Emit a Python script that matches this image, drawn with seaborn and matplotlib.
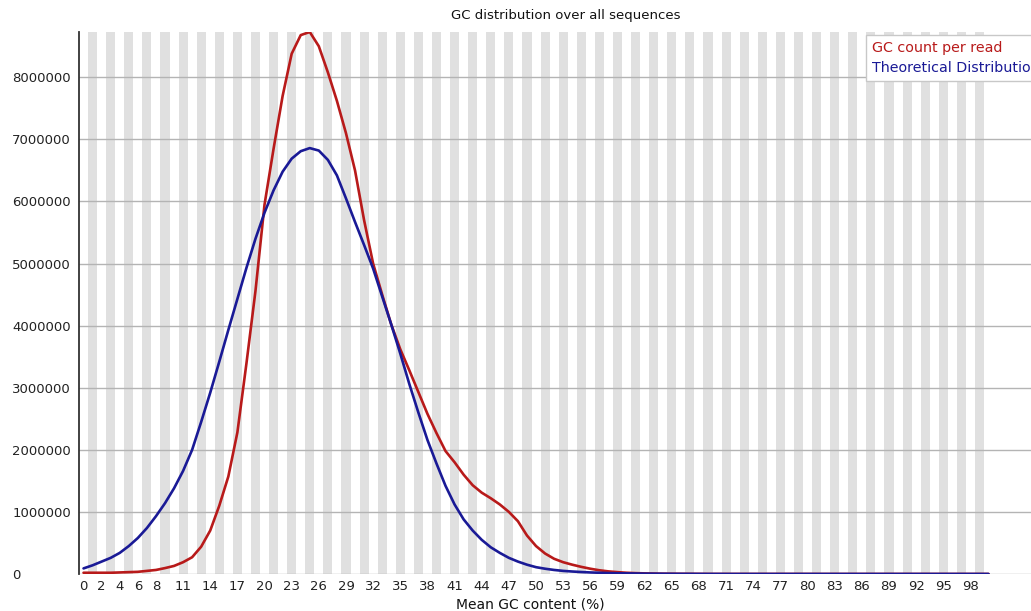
import numpy as np
import pandas as pd
import matplotlib
matplotlib.use("Agg")
import matplotlib.pyplot as plt
import seaborn as sns
from matplotlib.lines import Line2D

# Mean GC content of each read (%), one point per percent
gc_percent = list(range(101))

# Observed read counts per GC percent (millions)
gc_count_per_read = [
    0.02, 0.02, 0.02, 0.02, 0.025, 0.03, 0.035, 0.05, 0.065, 0.095,
    0.13, 0.19, 0.27, 0.44, 0.70, 1.10, 1.57, 2.28, 3.39, 4.56,
    5.95, 6.85, 7.70, 8.38, 8.68, 8.73, 8.50, 8.08, 7.62, 7.10,
    6.50, 5.70, 5.00, 4.50, 4.02, 3.62, 3.28, 2.93, 2.58, 2.27,
    1.98, 1.80, 1.60, 1.43, 1.31, 1.22, 1.12, 1.00, 0.85, 0.62,
    0.45, 0.33, 0.245, 0.19, 0.15, 0.115, 0.085, 0.06, 0.042, 0.03,
    0.02, 0.014, 0.01, 0.007, 0.005, 0.004, 0.003, 0.0025, 0.002, 0.001,
    0.001, 0.001, 0.001, 0.001, 0.001, 0.001, 0.001, 0.001, 0.001, 0.001,
    0.001, 0.0005, 0.0005, 0.0005, 0.0005, 0.0005, 0.0005, 0.0005, 0.0005, 0.0005,
    0.0005, 0.0005, 0.0005, 0.0005, 0.0005, 0.0005, 0.0005, 0.0005, 0.0005, 0.0005,
    0.0005,
]

# Theoretical (normal) distribution counts per GC percent (millions)
theoretical_distribution = [
    0.09, 0.14, 0.20, 0.26, 0.34, 0.45, 0.58, 0.74, 0.93, 1.14,
    1.38, 1.66, 2.00, 2.45, 2.92, 3.42, 3.93, 4.43, 4.93, 5.40,
    5.82, 6.18, 6.48, 6.69, 6.81, 6.86, 6.82, 6.67, 6.42, 6.05,
    5.67, 5.30, 4.92, 4.47, 4.02, 3.55, 3.06, 2.60, 2.16, 1.78,
    1.42, 1.12, 0.88, 0.70, 0.55, 0.43, 0.34, 0.26, 0.20, 0.15,
    0.11, 0.085, 0.065, 0.05, 0.04, 0.032, 0.025, 0.02, 0.015, 0.012,
    0.01, 0.008, 0.006, 0.005, 0.004, 0.003, 0.0025, 0.002, 0.0015, 0.001,
    0.001, 0.0005, 0.0005, 0.0005, 0.0005, 0.0005, 0.0005, 0.0005, 0.0005, 0.0005,
    0.0005, 0.0005, 0.0005, 0.0005, 0.0005, 0.0005, 0.0005, 0.0005, 0.0005, 0.0005,
    0.0005, 0.0005, 0.0005, 0.0005, 0.0005, 0.0005, 0.0005, 0.0005, 0.0005, 0.0005,
    0.0005,
]

x_tick_labels = [0, 2, 4, 6, 8] + list(range(11, 99, 3))
y_tick_values = [0, 1000000, 2000000, 3000000, 4000000, 5000000, 6000000, 7000000, 8000000]

series_names = ["GC count per read", "Theoretical Distribution"]
series_colors = ["#b81a1a", "#1a1a96"]

df = pd.concat([
    pd.DataFrame({"gc": gc_percent,
                  "count": np.array(gc_count_per_read) * 1e6,
                  "series": series_names[0]}),
    pd.DataFrame({"gc": gc_percent,
                  "count": np.array(theoretical_distribution) * 1e6,
                  "series": series_names[1]}),
])

sns.set_theme(style="white")
plt.rcParams["font.family"] = ["DejaVu Sans"]

W, H = 1031, 611
fig = plt.figure(figsize=(W / 100, H / 100), dpi=100)
ax = fig.add_axes([79 / W, (H - 574) / H, (W - 79) / W, (574 - 32) / H])

# alternating category bands
for i in gc_percent:
    if i % 2 == 1:
        ax.axvspan(i - 0.5, i + 0.5, color="#e0e0e0", lw=0, zorder=0)

# horizontal guide lines
for v in y_tick_values:
    ax.axhline(v, color="#b4b4b4", lw=1.0, zorder=1)

sns.lineplot(data=df, x="gc", y="count", hue="series",
             palette=dict(zip(series_names, series_colors)),
             linewidth=1.9, legend=False, ax=ax, zorder=3)

ymax = df["count"].max()
ax.set_xlim(-0.5, -0.5 + (W - 79) / 9.05)
ax.set_ylim(0, ymax)

ax.set_xticks(x_tick_labels)
ax.set_xticklabels([str(v) for v in x_tick_labels])
ax.set_yticks(y_tick_values)
ax.set_yticklabels([str(v) for v in y_tick_values])
for lab in ax.get_yticklabels():
    lab.set_horizontalalignment("left")
ax.tick_params(axis="x", length=0, pad=4.5, labelsize=9.5, colors="#222222")
ax.tick_params(axis="y", length=0, pad=48, labelsize=9.5, colors="#222222")
ax.set_xlabel("")
ax.set_ylabel("")

for side in ["top", "right", "bottom"]:
    ax.spines[side].set_visible(False)
ax.spines["left"].set_color("#333333")
ax.spines["left"].set_linewidth(1.3)
ax.spines["left"].set_zorder(4)

fig.text(566 / W, 1 - 15 / H, "GC distribution over all sequences",
         ha="center", va="center", fontsize=9.5, color="#111111")
fig.text(530 / W, 1 - 604 / H, "Mean GC content (%)",
         ha="center", va="center", fontsize=10, color="#111111")

handles = [Line2D([], [], lw=0) for _ in series_names]
leg = ax.legend(handles, series_names, loc="upper left",
                bbox_to_anchor=(866 / W, 1 - 35 / H), bbox_transform=fig.transFigure,
                borderaxespad=0, handlelength=0, handletextpad=0,
                borderpad=0.4, labelspacing=0.45, fontsize=10.3,
                frameon=True, fancybox=False, framealpha=1,
                facecolor="white", edgecolor="#c8c8c8")
leg.get_frame().set_linewidth(1.0)
leg.set_zorder(5)
for txt, c in zip(leg.get_texts(), series_colors):
    txt.set_color(c)

fig.savefig("out.png", dpi=100)
